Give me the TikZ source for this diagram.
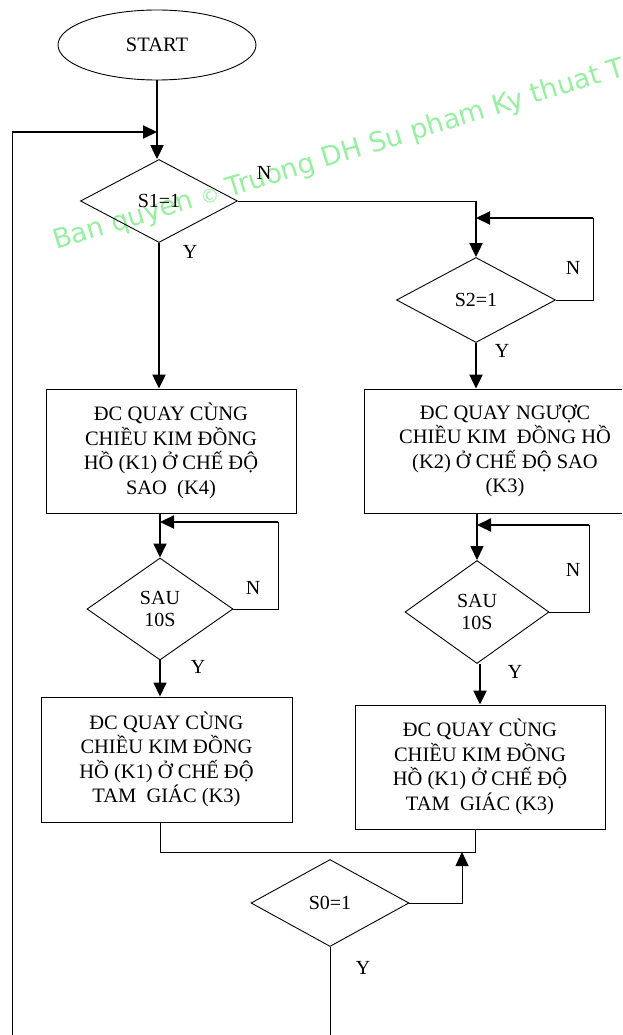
\documentclass[tikz,border=0pt]{standalone}
\usepackage{fontspec}
\setmainfont{Liberation Serif}
\newfontfamily\wmfont{DejaVu Sans}
\usetikzlibrary{shapes.geometric,arrows.meta}
\definecolor{wmgreen}{RGB}{150,240,160}
\tikzset{
  base/.style={draw, line width=0.9pt, font=\fontsize{20.5}{24.5}\selectfont, inner sep=0pt},
  boxnode/.style={base, rectangle, align=center},
  dec/.style={base, diamond, align=center, font=\fontsize{20}{21.5}\selectfont},
  term/.style={base, ellipse},
  thinline/.style={line width=0.9pt},
  midline/.style={line width=1.5pt},
  thickline/.style={line width=2.2pt},
  arr/.style={-{Triangle[length=14pt,width=13pt]}},
  lbl/.style={font=\fontsize{20}{24}\selectfont, inner sep=0pt},
}
\begin{document}
\begin{tikzpicture}[x=1pt,y=-1pt]
\useasboundingbox (0,0) rectangle (622,1035);
\clip (0,0) rectangle (622,1035);
% watermark
\node[rotate=17, anchor=base west, text=wmgreen, font=\wmfont\fontsize{27}{27}\selectfont, inner sep=0pt] (wm) at (56,250) {Ban quyen {\fontsize{19}{19}\selectfont ©} Truong DH Su pham Ky thuat T};
% nodes
\node[term, minimum width=198pt, minimum height=70pt] (start) at (157,45) {START};
\node[dec, minimum width=157pt, minimum height=83pt] (s1) at (159,201) {S1=1};
\node[dec, minimum width=159pt, minimum height=85pt] (s2) at (476,300) {S2=1};
\node[boxnode, minimum width=250pt, minimum height=124pt] (b1) at (171,451)
  {ĐC QUAY CÙNG\\CHIỀU KIM ĐỒNG\\HỒ (K1) Ở CHẾ ĐỘ\\SAO\ \ (K4)};
\node[boxnode, minimum width=282pt, minimum height=124pt] (b2) at (505,451)
  {ĐC QUAY NGƯỢC\\CHIỀU KIM\ \ ĐỒNG HỒ\\(K2) Ở CHẾ ĐỘ SAO\\(K3)};
\node[dec, minimum width=146pt, minimum height=102pt] (d1) at (160,609) {SAU\\10S};
\node[dec, minimum width=144pt, minimum height=103pt] (d2) at (477,612) {SAU\\10S};
\node[boxnode, minimum width=251pt, minimum height=125pt] (b3) at (166.5,759.5)
  {ĐC QUAY CÙNG\\CHIỀU KIM ĐỒNG\\HỒ (K1) Ở CHẾ ĐỘ\\TAM\ \ GIÁC (K3)};
\node[boxnode, minimum width=250pt, minimum height=124pt] (b4) at (480,767)
  {ĐC QUAY CÙNG\\CHIỀU KIM ĐỒNG\\HỒ (K1) Ở CHẾ ĐỘ\\TAM\ \ GIÁC (K3)};
\node[dec, minimum width=158pt, minimum height=87pt] (s0) at (330,903) {S0=1};
% labels
\node[lbl] (ln1) at (264,173) {N};
\node[lbl] (ly1) at (190,252) {Y};
\node[lbl] (ln2) at (573,268) {N};
\node[lbl] (ly2) at (502,351) {Y};
\node[lbl] (ln3) at (253,588) {N};
\node[lbl] (ly3) at (198,667) {Y};
\node[lbl] (ln4) at (573,570) {N};
\node[lbl] (ly4) at (515,672) {Y};
\node[lbl] (ly0) at (363,968) {Y};
% coordinates
\coordinate (loopbot) at (12,1035);
\coordinate (loopc) at (12,132);
\coordinate (loopj) at (157,132);
\coordinate (n1) at (476,201);
\coordinate (s2r) at (593,300);
\coordinate (s2t) at (593,218);
\coordinate (s2j) at (476,218);
\coordinate (d1r) at (278,609);
\coordinate (d1t) at (278,522);
\coordinate (d1j) at (160,522);
\coordinate (d2r) at (589,612);
\coordinate (d2t) at (589,525);
\coordinate (d2j) at (477,525);
\coordinate (jl) at (160,852);
\coordinate (jr) at (475,852);
\coordinate (s0r) at (462,903);
\coordinate (s0t) at (462,852);
\coordinate (s0b) at (330,1035);
% connectors
\draw[thinline] (loopbot) -- (loopc);
\draw[thickline, arr] (loopc) -- (loopj);
\draw[thickline, arr] (start.south) -- (start.south |- s1.north);
\draw[thinline] (s1.east) -- (n1);
\draw[thickline, arr] (n1) -- (s2.north);
\draw[thinline] (s2.east) -- (s2r) -- (s2t);
\draw[thickline, arr] (s2t) -- (s2j);
\draw[thickline, arr] (s2.south) -- (s2.south |- b2.north);
\draw[thickline, arr] (s1.south) -- (s1.south |- b1.north);
\draw[midline, arr] (d1.north |- b1.south) -- (d1.north);
\draw[thinline] (d1.east) -- (d1r) -- (d1t);
\draw[thickline, arr] (d1t) -- (d1j);
\draw[midline, arr] (d1.south) -- (d1.south |- b3.north);
\draw[midline, arr] (d2.north |- b2.south) -- (d2.north);
\draw[thinline] (d2.east) -- (d2r) -- (d2t);
\draw[thickline, arr] (d2t) -- (d2j);
\draw[thickline, arr] (b4.north |- d2.south) -- (b4.north);
\draw[thinline] (jl |- b3.south) -- (jl) -- (jr) -- (jr |- b4.south);
\draw[thinline, arr] (s0.east) -- (s0r) -- (s0t);
\draw[thinline] (s0.south) -- (s0b);
\end{tikzpicture}
\end{document}
